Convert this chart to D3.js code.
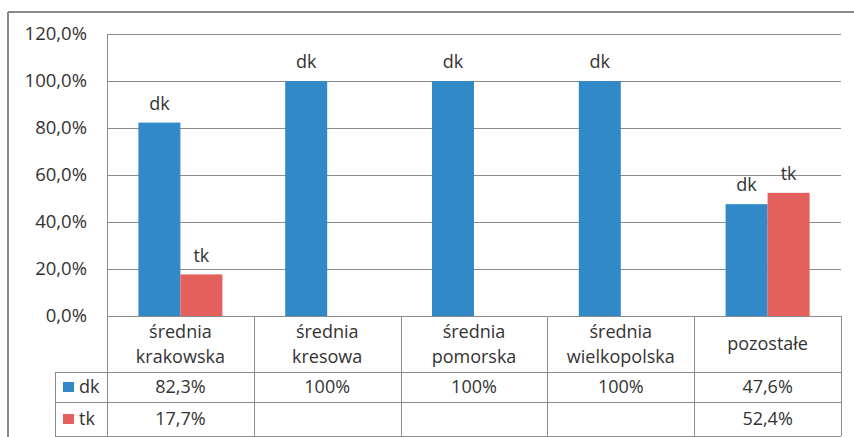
<html>
<head>
	<meta charset="utf-8">
	<script src="https://d3js.org/d3.v7.min.js"></script>
	<style>
		body { margin: 0; background: #fff; }
		text { font-family: "Open Sans", "DejaVu Sans", sans-serif; fill: #333; }
	</style>
</head>
<body>
	<div id="output"></div>
	<script>
		// chart data
		var categories = [["średnia", "krakowska"], ["średnia", "kresowa"], ["średnia", "pomorska"], ["średnia", "wielkopolska"], ["pozostałe"]];
		var seriesNames = ["dk", "tk"];
		var dkValues = [82.3, 100, 100, 100, 47.6];
		var tkValues = [17.7, null, null, null, 52.4];
		var dkLabels = ["82,3%", "100%", "100%", "100%", "47,6%"];
		var tkLabels = ["17,7%", "", "", "", "52,4%"];
		var yTicks = [0, 20, 40, 60, 80, 100, 120];
		var colors = ["#3289c7", "#e4605c"];

		var width = 854, height = 437;
		var plotLeft = 107, plotRight = 841, plotTop = 34, zeroY = 316;
		var row1 = 372, row2 = 402, row3 = 436, legendLeft = 55;

		var svg = d3.select("#output")
			.append("svg")
			.attr("width", width)
			.attr("height", height);

		// outer frame
		svg.append("line").attr("x1", 8).attr("x2", width).attr("y1", 12).attr("y2", 12)
			.style("stroke", "#8a8a8a").style("stroke-width", 2);
		svg.append("line").attr("x1", 8).attr("x2", 8).attr("y1", 12).attr("y2", height)
			.style("stroke", "#8a8a8a").style("stroke-width", 2);

		var x = d3.scaleBand().domain(d3.range(categories.length)).range([plotLeft, plotRight]);
		var xs = d3.scaleBand().domain(seriesNames).range([0, 84]);
		var y = d3.scaleLinear().domain([0, 120]).range([zeroY, plotTop]);

		// gridlines
		svg.selectAll(".grid").data(yTicks.slice(1)).enter().append("line")
			.attr("x1", plotLeft).attr("x2", plotRight)
			.attr("y1", function(d){ return Math.round(y(d)) + 0.5; })
			.attr("y2", function(d){ return Math.round(y(d)) + 0.5; })
			.style("stroke", "#8c8c8c").style("stroke-width", 1);

		// y axis labels
		svg.selectAll(".ylab").data(yTicks).enter().append("text")
			.attr("x", 87)
			.attr("y", function(d){ return y(d); })
			.attr("dy", "0.35em")
			.style("font-size", "18.5px")
			.style("text-anchor", "end")
			.text(function(d){ return d.toFixed(1).replace(".", ",") + "%"; });

		// bars
		var series = [dkValues, tkValues];
		series.forEach(function(vals, si){
			var g = svg.append("g");
			vals.forEach(function(v, i){
				if (v == null) return;
				var bx = x(i) + (x.bandwidth() - 84) / 2 + xs(seriesNames[si]);
				g.append("rect")
					.attr("x", bx)
					.attr("y", y(v))
					.attr("width", xs.bandwidth())
					.attr("height", zeroY - y(v))
					.attr("fill", colors[si]);
				g.append("text")
					.attr("x", bx + xs.bandwidth() / 2)
					.attr("y", y(v) - 19)
					.attr("dy", "0.35em")
					.style("font-size", "18px")
					.style("text-anchor", "middle")
					.text(seriesNames[si]);
			});
		});

		// table lines
		var lineStyle = function(sel){ return sel.style("stroke", "#8c8c8c").style("stroke-width", 1); };
		lineStyle(svg.append("line").attr("x1", plotLeft).attr("x2", plotRight).attr("y1", zeroY + 0.5).attr("y2", zeroY + 0.5));
		[row1, row2, row3].forEach(function(ry){
			lineStyle(svg.append("line").attr("x1", legendLeft).attr("x2", plotRight).attr("y1", ry + 0.5).attr("y2", ry + 0.5));
		});
		lineStyle(svg.append("line").attr("x1", legendLeft + 0.5).attr("x2", legendLeft + 0.5).attr("y1", row1).attr("y2", row3));
		lineStyle(svg.append("line").attr("x1", plotLeft + 0.5).attr("x2", plotLeft + 0.5).attr("y1", plotTop).attr("y2", row3));
		d3.range(1, categories.length + 1).forEach(function(i){
			var vx = Math.round(i < categories.length ? x(i) : plotRight) + 0.5;
			lineStyle(svg.append("line").attr("x1", vx).attr("x2", vx).attr("y1", zeroY).attr("y2", row3));
		});

		// category labels
		categories.forEach(function(c, i){
			var cx = x(i) + x.bandwidth() / 2;
			var cy = (zeroY + row1) / 2;
			c.forEach(function(line, li){
				svg.append("text")
					.attr("x", cx)
					.attr("y", cy + (li - (c.length - 1) / 2) * 25)
					.attr("dy", "0.35em")
					.style("font-size", "18px")
					.style("text-anchor", "middle")
					.text(line);
			});
		});

		// data rows
		[dkLabels, tkLabels].forEach(function(labels, si){
			var ry = si == 0 ? (row1 + row2) / 2 : (row2 + row3) / 2;
			svg.append("rect")
				.attr("x", 63).attr("y", ry - 5)
				.attr("width", 11).attr("height", 10)
				.attr("fill", colors[si]);
			svg.append("text")
				.attr("x", 79).attr("y", ry).attr("dy", "0.35em")
				.style("font-size", "18px")
				.text(seriesNames[si]);
			labels.forEach(function(t, i){
				svg.append("text")
					.attr("x", x(i) + x.bandwidth() / 2)
					.attr("y", ry).attr("dy", "0.35em")
					.style("font-size", "18px")
					.style("text-anchor", "middle")
					.text(t);
			});
		});
	</script>
</body>
</html>
